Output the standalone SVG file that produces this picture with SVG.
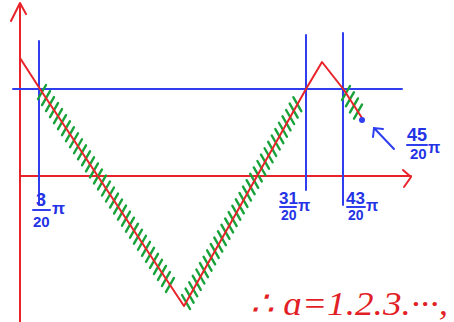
<svg xmlns="http://www.w3.org/2000/svg" width="454" height="322" viewBox="0 0 454 322">
<style>
.red{stroke:#e8232a;stroke-width:2;fill:none;stroke-linecap:round;stroke-linejoin:round}
.blue{stroke:#2f3ff0;stroke-width:2;fill:none;stroke-linecap:round}
.hatch{stroke:#17a33a;stroke-width:2.4;fill:none;stroke-linecap:round}
.lbl{font-family:"Liberation Sans",Arial,sans-serif;font-weight:bold;fill:#2433e6}
.eq{font-family:"Liberation Serif","Times New Roman",serif;font-style:italic;fill:#e21f26}
</style>
<rect width="454" height="322" fill="#ffffff"/>
<g id="axes">
<path class="red" d="M20,322 V3 M11,21 L20,3 L26,14"/>
<path class="red" d="M20,176 H411 M403,170 L411,177 L404,187"/>
</g>
<g id="guides">
<path class="blue" d="M13,89 H402"/>
<path class="blue" d="M39,41 V205 M306,35 V190 M343,33 V205"/>
</g>
<g id="hatching">
<path class="hatch" d="M38,99 l8-14 m-4 20.03l8-14 m-4 20.03l8-14 m-4 20.03l8-14 m-4 20.03l8-14 m-4 20.03l8-14 m-4 20.03l8-14 m-4 20.03l8-14 m-4 20.03l8-14 m-4 20.03l8-14 m-4 20.03l8-14 m-4 20.03l8-14 m-4 20.03l8-14 m-4 20.03l8-14 m-4 20.03l8-14 m-4 20.03l8-14 m-4 20.03l8-14 m-4 20.03l8-14 m-4 20.03l8-14 m-4 20.03l8-14 m-4 20.03l8-14 m-4 20.03l8-14 m-4 20.03l8-14 m-4 20.03l8-14 m-4 20.03l8-14 m-4 20.03l8-14 m-4 20.03l8-14 m-4 20.03l8-14 m-4 20.03l8-14 m-4 20.03l8-14 m-4 20.03l8-14 m-4 20.03l8-14 m-4 20.03l8-14"/>
<path class="hatch" d="M182,295 l8 14 m-4.41-20.38l8 14 m-4.41-20.38l8 14 m-4.41-20.38l8 14 m-4.41-20.38l8 14 m-4.41-20.38l8 14 m-4.41-20.38l8 14 m-4.41-20.38l8 14 m-4.41-20.38l8 14 m-4.41-20.38l8 14 m-4.41-20.38l8 14 m-4.41-20.38l8 14 m-4.41-20.38l8 14 m-4.41-20.38l8 14 m-4.41-20.38l8 14 m-4.41-20.38l8 14 m-4.41-20.38l8 14 m-4.41-20.38l8 14 m-4.41-20.38l8 14 m-4.41-20.38l8 14 m-4.41-20.38l8 14 m-4.41-20.38l8 14 m-4.41-20.38l8 14 m-4.41-20.38l8 14 m-4.41-20.38l8 14 m-4.41-20.38l8 14 m-4.41-20.38l8 14 m-4.41-20.38l8 14 m-4.41-20.38l8 14 m-4.41-20.38l8 14 m-4.41-20.38l8 14 m-4.41-20.38l8 14"/>
<path class="hatch" d="M342,100 l8-14 m-4 20.2l8-14 m-4 20.2l8-14 m-4 20.2l8-14"/>
</g>
<g id="curve">
<path class="red" d="M20,58 L40,89 L184,306 L306,89 L322,62 L344,90 L362,118"/>
</g>
<g id="connectors">
<path class="blue" d="M394,149 L374,128 M373,137 L374,128 L383,129" stroke-width="2.4"/>
<circle cx="362" cy="120" r="3" fill="#2f3ff0"/>
</g>
<g id="label-3-20">
<text class="lbl" x="36" y="206" font-size="18">3</text>
<path class="blue" d="M33,210 H50" stroke-width="2.4"/>
<text class="lbl" x="33" y="227" font-size="15">20</text>
<text class="lbl" x="52" y="214" font-size="17">π</text>
</g>
<g id="label-31-20">
<text class="lbl" x="279" y="204" font-size="17">31</text>
<path class="blue" d="M280,207 H296" stroke-width="2.4"/>
<text class="lbl" x="281" y="220" font-size="14">20</text>
<text class="lbl" x="298" y="211" font-size="16">π</text>
</g>
<g id="label-43-20">
<text class="lbl" x="346" y="204" font-size="17">43</text>
<path class="blue" d="M347,207 H365" stroke-width="2.4"/>
<text class="lbl" x="348" y="220" font-size="14">20</text>
<text class="lbl" x="366" y="211" font-size="16">π</text>
</g>
<g id="label-45-20">
<text class="lbl" x="407" y="141" font-size="18">45</text>
<path class="blue" d="M407,145 H427" stroke-width="2.4"/>
<text class="lbl" x="410" y="159" font-size="15">20</text>
<text class="lbl" x="428" y="153" font-size="16">π</text>
</g>
<g id="equation">
<text class="eq" x="250" y="315" font-size="34" textLength="198" lengthAdjust="spacingAndGlyphs">∴ ɑ=1.2.3.···,</text>
</g>
</svg>
